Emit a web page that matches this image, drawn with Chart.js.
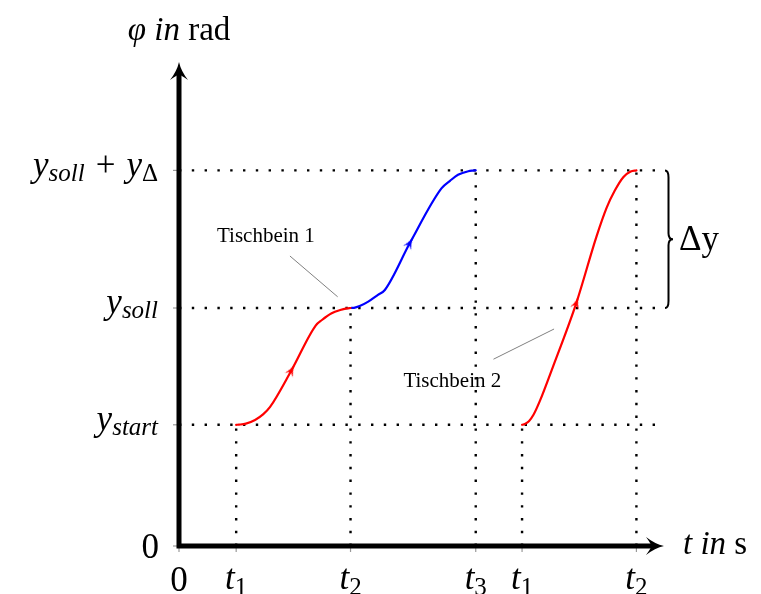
<!DOCTYPE html>
<html>
<head>
<meta charset="utf-8">
<script src="https://cdn.jsdelivr.net/npm/chart.js@4.4.1/dist/chart.umd.min.js"></script>
<style>
  html, body { margin: 0; padding: 0; background: #fff; }
  canvas { display: block; }
</style>
</head>
<body>
<canvas id="graph" width="761" height="594"></canvas>
<script>
// 時刻 (t-Achse)
const T1 = 1.0, T2 = 3.0, T3 = 5.19, T1B = 6.0, T2B = 8.0;
const X_MAX = 8.5;

// Winkel (phi-Achse)
const Y_START = 3.03, Y_SOLL = 5.95, Y_TOP = 9.39;
const Y_MAX = 12.1;

// Achsenbeschriftung
const xTickValues = [0, T1, T2, T3, T1B, T2B];
const xTickMain = ['0', 't', 't', 't', 't', 't'];
const xTickSub = ['', '1', '2', '3', '1', '2'];
const yTickValues = [0, Y_START, Y_SOLL, Y_TOP];

// Tischbein 1 (rot): t1 -> t2
const red1X = [1.0, 1.05, 1.17, 1.33, 1.47, 1.59, 1.97, 2.39, 2.50, 2.67, 2.82, 2.94, 3.0];
const red1Y = [3.03, 3.035, 3.06, 3.15, 3.29, 3.47, 4.40, 5.51, 5.65, 5.82, 5.90, 5.94, 5.95];

// Tischbein 1 (blau): t2 -> t3
const blue1X = [3.0, 3.06, 3.16, 3.31, 3.48, 3.60, 4.04, 4.59, 4.74, 4.88, 5.06, 5.14, 5.19];
const blue1Y = [5.95, 5.955, 6.00, 6.11, 6.28, 6.40, 7.58, 8.94, 9.13, 9.28, 9.37, 9.385, 9.39];

// Tischbein 2 (rot): t1 -> t2
const red2X = [6.0, 6.05, 6.12, 6.20, 6.31, 6.54, 6.95, 7.30, 7.48, 7.62, 7.77, 7.90, 8.0];
const red2Y = [3.03, 3.05, 3.12, 3.28, 3.62, 4.48, 6.08, 7.73, 8.46, 8.88, 9.22, 9.36, 9.39];

// Hilfslinien (gepunktet)
const guideLevels = [Y_START, Y_SOLL, Y_TOP];
const dropX = [T1, T2, T3, T1B, T2B];
const dropY = [Y_START, Y_SOLL, Y_TOP, Y_START, Y_TOP];

const SERIF = '"Liberation Serif", "DejaVu Serif", serif';
const F_MAIN = 'italic 35px ' + SERIF;
const F_SUB = 'italic 25px ' + SERIF;
const F_ROMAN = '35px ' + SERIF;
const F_ROMAN_SUB = '25px ' + SERIF;
const F_TITLE_I = 'italic 33px ' + SERIF;
const F_TITLE = '33px ' + SERIF;
const F_NOTE = '21px ' + SERIF;

/*
  kleiner Pfeil auf der Kurve
*/
function arrowImage(color) {
  const c = document.createElement('canvas');
  c.width = 16;
  c.height = 16;
  const g = c.getContext('2d');
  g.fillStyle = color;
  g.beginPath();
  g.moveTo(8, 2);
  g.quadraticCurveTo(7, 8, 3.5, 14);
  g.quadraticCurveTo(6.5, 10.8, 8, 10.5);
  g.quadraticCurveTo(9.5, 10.8, 12.5, 14);
  g.quadraticCurveTo(9, 8, 8, 2);
  g.fill();
  return c;
}

function curveDataset(xs, ys, color, arrowIdx, arrowDeg) {
  return {
    data: xs.map(function(x, i) { return {x: x, y: ys[i]}; }),
    borderColor: color,
    borderWidth: 2.2,
    cubicInterpolationMode: 'monotone',
    borderCapStyle: 'round',
    borderJoinStyle: 'round',
    pointRadius: xs.map(function(_, i) { return i === arrowIdx ? 5 : 0; }),
    pointStyle: arrowImage(color),
    pointRotation: arrowDeg,
    fill: false,
    clip: false,
    order: 0
  };
}

function guideDataset(points) {
  return {
    data: points,
    borderColor: '#000',
    borderWidth: 2.4,
    borderDash: [2.4, 10.4],
    pointRadius: 0,
    tension: 0,
    fill: false,
    clip: false,
    order: 1
  };
}

let datasets = [
  curveDataset(red1X, red1Y, '#ff0000', 6, 29),
  curveDataset(blue1X, blue1Y, '#0000ff', 6, 29),
  curveDataset(red2X, red2Y, '#ff0000', 6, 18.5)
];
guideLevels.forEach(function(lv) {
  datasets.push(guideDataset([{x: 0, y: lv}, {x: X_MAX, y: lv}]));
});
dropX.forEach(function(x, i) {
  datasets.push(guideDataset([{x: x, y: 0}, {x: x, y: dropY[i]}]));
});

/*
  Text aus Teilen (Index)
*/
function drawParts(ctx, parts, x, base, align) {
  let w = 0;
  parts.forEach(function(p) {
    ctx.font = p.font;
    p.w = ctx.measureText(p.t).width;
    w += p.w + (p.pad || 0) * 2;
  });
  let cx = align === 'right' ? x - w : (align === 'center' ? x - w / 2 : x);
  parts.forEach(function(p) {
    ctx.font = p.font;
    cx += p.pad || 0;
    ctx.fillText(p.t, cx, base + (p.dy || 0));
    cx += p.w + (p.pad || 0);
  });
}

function axisArrow(ctx, x, y, angle) {
  ctx.save();
  ctx.translate(x, y);
  ctx.rotate(angle);
  ctx.fillStyle = '#000';
  ctx.beginPath();
  ctx.moveTo(0, 0);
  ctx.quadraticCurveTo(-2, 9, -9, 18);
  ctx.quadraticCurveTo(-3, 13.5, 0, 12.5);
  ctx.quadraticCurveTo(3, 13.5, 9, 18);
  ctx.quadraticCurveTo(2, 9, 0, 0);
  ctx.fill();
  ctx.restore();
}

const decorPlugin = {
  id: 'decor',
  afterDatasetsDraw(chart) {
    const ctx = chart.ctx;
    const xs = chart.scales.x, ys = chart.scales.y;
    const px = function(v) { return xs.getPixelForValue(v); };
    const py = function(v) { return ys.getPixelForValue(v); };
    const x0 = px(0), y0 = py(0);
    const xEnd = px(X_MAX), yEnd = py(Y_MAX);

    ctx.save();
    // Teilstriche
    ctx.strokeStyle = '#999';
    ctx.lineWidth = 1.2;
    xTickValues.forEach(function(v) {
      ctx.beginPath();
      ctx.moveTo(px(v), y0);
      ctx.lineTo(px(v), y0 + 6);
      ctx.stroke();
    });
    yTickValues.forEach(function(v) {
      ctx.beginPath();
      ctx.moveTo(x0, py(v));
      ctx.lineTo(x0 - 6, py(v));
      ctx.stroke();
    });

    // Achsen
    ctx.strokeStyle = '#000';
    ctx.lineWidth = 5;
    ctx.lineCap = 'butt';
    ctx.beginPath();
    ctx.moveTo(x0, y0 + 2.5);
    ctx.lineTo(x0, yEnd + 12);
    ctx.moveTo(x0 - 2.5, y0);
    ctx.lineTo(xEnd - 13, y0);
    ctx.stroke();
    axisArrow(ctx, x0, yEnd, 0);
    axisArrow(ctx, xEnd - 1, y0, Math.PI / 2);

    ctx.fillStyle = '#000';
    ctx.textBaseline = 'alphabetic';

    // x-Beschriftung
    xTickValues.forEach(function(v, i) {
      if (xTickSub[i] === '') {
        drawParts(ctx, [{t: xTickMain[i], font: F_ROMAN}], px(v), 591, 'center');
      } else {
        drawParts(ctx, [{t: xTickMain[i], font: F_MAIN}, {t: xTickSub[i], font: F_ROMAN_SUB, dy: 6}], px(v), 589, 'center');
      }
    });

    // y-Beschriftung
    const yr = x0 - 21;
    drawParts(ctx, [{t: '0', font: F_ROMAN}], x0 - 20, py(0) + 12, 'right');
    drawParts(ctx, [{t: 'y', font: F_MAIN}, {t: 'start', font: F_SUB, dy: 5}], yr, py(Y_START) + 5, 'right');
    drawParts(ctx, [{t: 'y', font: F_MAIN}, {t: 'soll', font: F_SUB, dy: 5}], yr, py(Y_SOLL) + 5, 'right');
    drawParts(ctx, [
      {t: 'y', font: F_MAIN}, {t: 'soll', font: F_SUB, dy: 5},
      {t: '+', font: F_ROMAN, pad: 11},
      {t: 'y', font: F_MAIN}, {t: 'Δ', font: F_ROMAN_SUB, dy: 5}
    ], yr, py(Y_TOP) + 6, 'right');

    // Achsentitel
    drawParts(ctx, [{t: 'φ', font: F_TITLE_I}, {t: ' in ', font: F_TITLE_I}, {t: 'rad', font: F_TITLE}], x0, 40, 'center');
    drawParts(ctx, [{t: 't', font: F_TITLE_I}, {t: ' in ', font: F_TITLE_I}, {t: 's', font: F_TITLE}], xEnd + 18, y0 + 8, 'left');

    // Tischbein-Hinweise
    ctx.strokeStyle = '#808080';
    ctx.lineWidth = 1;
    ctx.beginPath();
    ctx.moveTo(px(1.94), py(7.25));
    ctx.lineTo(px(2.775), py(6.23));
    ctx.moveTo(px(6.56), py(5.425));
    ctx.lineTo(px(5.5), py(4.67));
    ctx.stroke();
    ctx.font = F_NOTE;
    ctx.textAlign = 'center';
    ctx.fillText('Tischbein 1', px(1.52), py(7.6));
    ctx.fillText('Tischbein 2', px(4.78), py(3.975));
    ctx.textAlign = 'left';

    // geschweifte Klammer
    const bx = px(X_MAX), bt = py(Y_TOP), bb = py(Y_SOLL), bm = (bt + bb) / 2;
    ctx.strokeStyle = '#000';
    ctx.lineWidth = 2;
    ctx.beginPath();
    ctx.moveTo(bx, bt);
    ctx.quadraticCurveTo(bx + 3.5, bt, bx + 3.5, bt + 7);
    ctx.lineTo(bx + 3.5, bm - 6);
    ctx.quadraticCurveTo(bx + 3.5, bm, bx + 8, bm);
    ctx.quadraticCurveTo(bx + 3.5, bm, bx + 3.5, bm + 6);
    ctx.lineTo(bx + 3.5, bb - 7);
    ctx.quadraticCurveTo(bx + 3.5, bb, bx, bb);
    ctx.stroke();
    drawParts(ctx, [{t: 'Δy', font: F_ROMAN}], bx + 14, bm + 11, 'left');
    ctx.restore();
  }
};

new Chart(document.getElementById('graph'), {
  type: 'line',
  data: { datasets: datasets },
  options: {
    responsive: false,
    animation: false,
    devicePixelRatio: 1,
    events: [],
    layout: { padding: { left: 179, right: 96, top: 62, bottom: 48 } },
    scales: {
      x: { type: 'linear', min: 0, max: X_MAX, display: false },
      y: { type: 'linear', min: 0, max: Y_MAX, display: false }
    },
    plugins: { legend: { display: false }, tooltip: { enabled: false } }
  },
  plugins: [decorPlugin]
});
</script>
</body>
</html>
